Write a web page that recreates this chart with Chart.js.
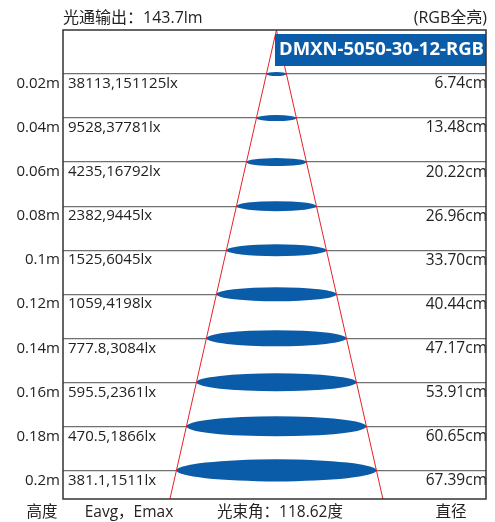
<!DOCTYPE html>
<html>
<head>
    <title>DMXN-5050-30-12-RGB beam chart</title>
    <script src="https://cdn.jsdelivr.net/npm/chart.js@4/dist/chart.umd.min.js"></script>
    <style>
        body { margin: 0; background: white; }
        canvas { display: block; }
    </style>
</head>
<body>
    <canvas id="beamChart" width="495" height="522"></canvas>

    <script>
        // heights in m, diameter in cm, illuminance strings as printed
        const heights = [0.02, 0.04, 0.06, 0.08, 0.1, 0.12, 0.14, 0.16, 0.18, 0.2];
        const heightLabels = ['0.02m', '0.04m', '0.06m', '0.08m', '0.1m', '0.12m', '0.14m', '0.16m', '0.18m', '0.2m'];
        const luxLabels = ['38113,151125lx', '9528,37781lx', '4235,16792lx', '2382,9445lx', '1525,6045lx',
                           '1059,4198lx', '777.8,3084lx', '595.5,2361lx', '470.5,1866lx', '381.1,1511lx'];
        const diameters = [6.74, 13.48, 20.22, 26.96, 33.70, 40.44, 47.17, 53.91, 60.65, 67.39];
        const diameterLabels = ['6.74cm', '13.48cm', '20.22cm', '26.96cm', '33.70cm', '40.44cm', '47.17cm', '53.91cm', '60.65cm', '67.39cm'];
        const beamEdge = [{x: 0, y: 0}, {x: 35.88, y: 0.213}];

        const titleText = '光通输出：143.7lm';
        const modeText = '(RGB全亮)';
        const modelName = 'DMXN-5050-30-12-RGB';
        const footer = ['高度', 'Eavg，Emax', '光束角：118.62度', '直径'];

        const FONT = "'Open Sans', 'Noto Sans CJK SC', sans-serif";
        const BLUE = '#0b5ca8';

        const setTicks = (scale) => { scale.ticks = heights.map(v => ({value: v})); };

        const beamPlugin = {
            id: 'beam',
            beforeDatasetsDraw(chart) {
                const {ctx, scales: {x, y}} = chart;
                ctx.save();
                ctx.fillStyle = BLUE;
                heights.forEach((h, i) => {
                    const cx = x.getPixelForValue(0);
                    const rx = x.getPixelForValue(diameters[i] / 2) - cx;
                    ctx.beginPath();
                    ctx.ellipse(cx, y.getPixelForValue(h), rx, rx * 0.1 + 1, 0, 0, Math.PI * 2);
                    ctx.fill();
                });
                ctx.restore();
            },
            afterDatasetsDraw(chart) {
                const {ctx, chartArea: a} = chart;
                ctx.save();
                // model badge
                ctx.fillStyle = BLUE;
                ctx.fillRect(a.left + 212, a.top + 4, a.right - a.left - 212, 32);
                ctx.fillStyle = 'white';
                ctx.font = 'bold 18.5px ' + FONT;
                ctx.textAlign = 'center';
                ctx.textBaseline = 'middle';
                ctx.fillText(modelName, (a.left + 212 + a.right) / 2 + 1, a.top + 20);
                // frame
                ctx.strokeStyle = '#333';
                ctx.lineWidth = 1.5;
                ctx.strokeRect(a.left, a.top, a.right - a.left, a.bottom - a.top);
                // header and footer texts
                ctx.fillStyle = '#222';
                ctx.font = '16px ' + FONT;
                ctx.textAlign = 'left';
                ctx.fillText(titleText, a.left, a.top - 12);
                ctx.textAlign = 'right';
                ctx.fillText(modeText, a.right + 1, a.top - 12);
                ctx.font = '15.5px ' + FONT;
                ctx.textAlign = 'center';
                const fy = a.bottom + 14;
                ctx.fillText(footer[0], a.left - 21, fy);
                ctx.fillText(footer[1], a.left + 66, fy);
                ctx.fillText(footer[2], a.left + 217, fy);
                ctx.fillText(footer[3], a.right - 35, fy);
                ctx.restore();
            }
        };

        new Chart(document.getElementById('beamChart'), {
            type: 'scatter',
            data: {
                datasets: [{
                    data: beamEdge,
                    showLine: true,
                    borderColor: '#e8202a',
                    borderWidth: 1,
                    pointRadius: 0
                }, {
                    data: beamEdge.map(p => ({x: -p.x, y: p.y})),
                    showLine: true,
                    borderColor: '#e8202a',
                    borderWidth: 1,
                    pointRadius: 0
                }]
            },
            options: {
                responsive: false,
                animation: false,
                layout: { padding: { left: 0, right: 9, top: 30, bottom: 23 } },
                plugins: { legend: { display: false }, tooltip: { enabled: false } },
                scales: {
                    x: { type: 'linear', display: false, min: -71.9, max: 70.6 },
                    y: {
                        type: 'linear', position: 'left', weight: 1,
                        min: 0, max: 0.213, reverse: true,
                        afterBuildTicks: setTicks,
                        afterFit: (s) => { s.width = 63; },
                        border: { display: false },
                        grid: { color: '#707070', lineWidth: 1.3, drawTicks: false },
                        ticks: {
                            color: '#222', font: { family: FONT, size: 15 }, padding: 3, labelOffset: 10,
                            callback: (v, i) => heightLabels[i]
                        }
                    },
                    lux: {
                        type: 'linear', position: 'left', weight: 0,
                        min: 0, max: 0.213, reverse: true,
                        afterBuildTicks: setTicks,
                        afterFit: (s) => { s.width = 0; },
                        border: { display: false },
                        grid: { display: false, drawTicks: false },
                        ticks: {
                            mirror: true, color: '#222', font: { family: FONT, size: 15 }, padding: 5, labelOffset: 10,
                            callback: (v, i) => luxLabels[i]
                        }
                    },
                    dia: {
                        type: 'linear', position: 'right',
                        min: 0, max: 0.213, reverse: true,
                        afterBuildTicks: setTicks,
                        afterFit: (s) => { s.width = 0; },
                        border: { display: false },
                        grid: { display: false, drawTicks: false },
                        ticks: {
                            mirror: true, color: '#222', font: { family: FONT, size: 15.5 }, padding: 1, labelOffset: 10,
                            callback: (v, i) => diameterLabels[i]
                        }
                    }
                }
            },
            plugins: [beamPlugin]
        });
    </script>
</body>
</html>
